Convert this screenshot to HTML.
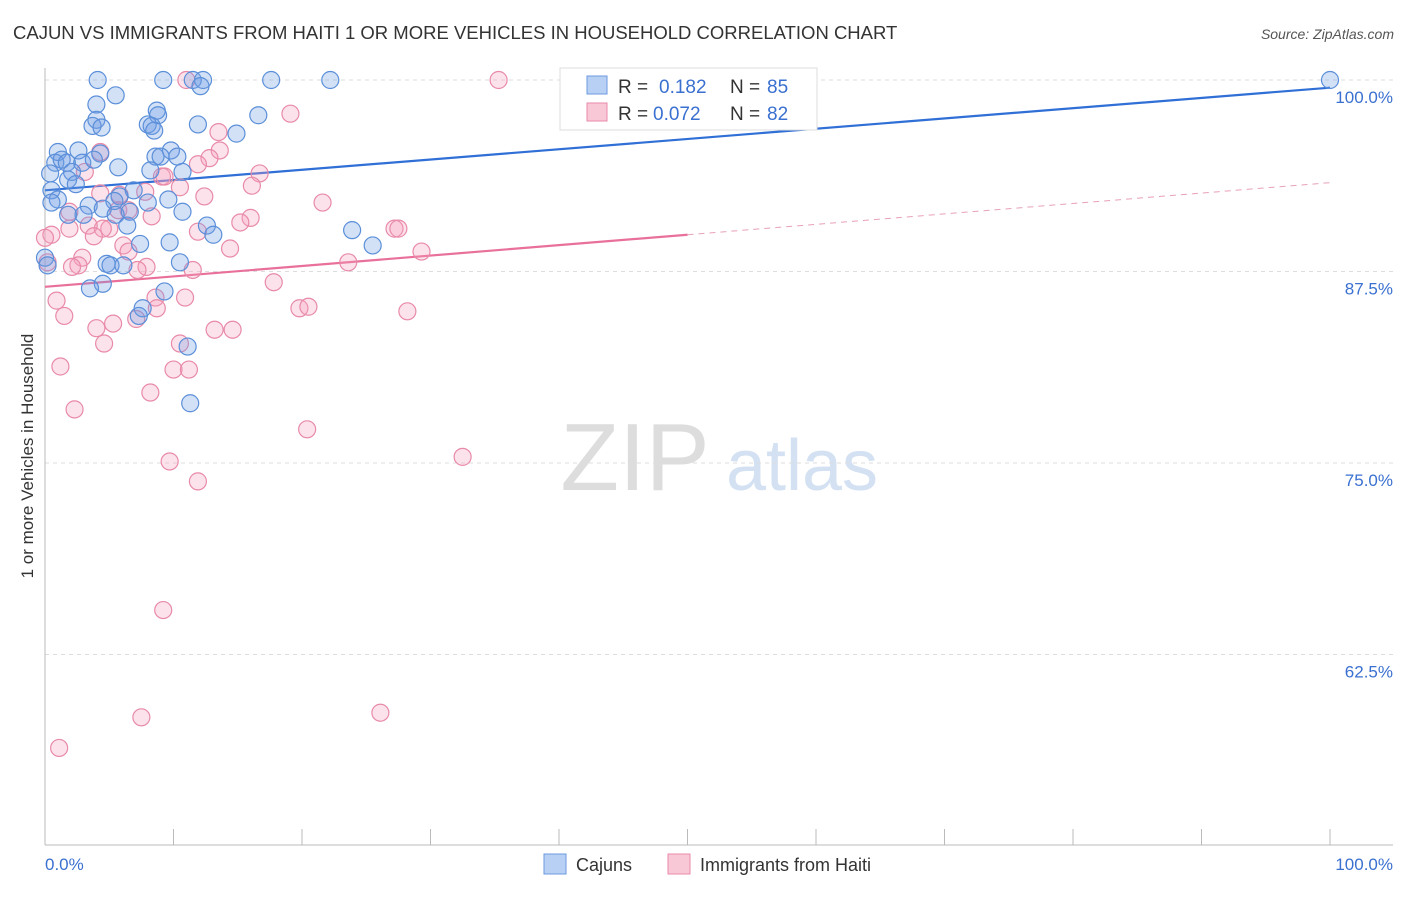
<!DOCTYPE html>
<html><head><meta charset="utf-8"><style>
body{margin:0;background:#fff;font-family:"Liberation Sans",sans-serif;}
svg text{font-family:"Liberation Sans",sans-serif;}
</style></head><body>
<svg id="chart" width="1406" height="892" viewBox="0 0 1406 892">
<text x="13" y="39" font-size="18.5" fill="#333">CAJUN VS IMMIGRANTS FROM HAITI 1 OR MORE VEHICLES IN HOUSEHOLD CORRELATION CHART</text>
<text x="1394" y="39" font-size="14" fill="#555" text-anchor="end" font-style="italic">Source: ZipAtlas.com</text>
<text transform="translate(33,456) rotate(-90)" font-size="17" fill="#333" text-anchor="middle">1 or more Vehicles in Household</text>
<g><text x="635" y="490" font-size="96" fill="#ddd" text-anchor="middle" font-family="Liberation Serif,serif">ZIP</text><text x="802" y="490" font-size="72" fill="#d3e1f3" text-anchor="middle">atlas</text></g>
<g id="grid"></g><g id="axes"></g><g id="lines"></g><g id="pts"></g>
<g>
<rect x="560" y="68" width="257" height="62" fill="#fff" stroke="#ddd"/>
<rect x="587" y="76" width="20" height="18" fill="#b8d0f3" stroke="#6b9ae0"/>
<text x="618" y="93" font-size="19" fill="#333">R =</text><text x="659" y="93" font-size="19" fill="#3a70d0">0.182</text>
<text x="730" y="93" font-size="19" fill="#333">N =</text><text x="767" y="93" font-size="19" fill="#3a70d0">85</text>
<rect x="587" y="103" width="20" height="18" fill="#f8c8d6" stroke="#e88aa8"/>
<text x="618" y="120" font-size="19" fill="#333">R =</text><text x="653" y="120" font-size="19" fill="#3a70d0">0.072</text>
<text x="730" y="120" font-size="19" fill="#333">N =</text><text x="767" y="120" font-size="19" fill="#3a70d0">82</text>
</g>
<g><rect x="544" y="854" width="22" height="20" fill="#b8d0f3" stroke="#6b9ae0"/><text x="576" y="871" font-size="18" fill="#333">Cajuns</text></g>
<g><rect x="668" y="854" width="22" height="20" fill="#f8c8d6" stroke="#e88aa8"/><text x="700" y="871" font-size="18" fill="#333">Immigrants from Haiti</text></g>
</svg>
<script>
const yTicks=[100,87.5,75,62.5];
const yTickLabels=["100.0%","87.5%","75.0%","62.5%"];
const xLabels=["0.0%","100.0%"];
const cajunX=[4.1,9.2,11.5,12.3,17.6,22.2,100,12.1,5.5,4.0,8.7,8.8,16.6,4.0,3.7,4.4,8.0,8.3,8.5,11.9,14.9,1.0,2.6,4.3,9.8,8.6,9.0,10.3,0.8,1.3,1.7,2.9,3.8,5.7,0.4,2.1,8.2,10.7,1.8,2.4,0.5,6.9,5.8,1.0,3.4,5.4,8.0,9.6,0.5,1.8,3.0,4.5,6.6,10.7,5.5,6.4,12.6,13.1,23.9,25.5,7.4,9.7,0,0.2,4.8,5.1,6.1,10.5,4.5,3.5,9.3,7.6,7.3,11.1,11.3];
const cajunY=[100,100,100,100,100,100,100,99.6,99.0,98.4,98.0,97.7,97.7,97.4,97.0,96.9,97.1,97.0,96.7,97.1,96.5,95.3,95.4,95.2,95.4,95.0,95.0,95.0,94.6,94.8,94.6,94.6,94.8,94.3,93.9,94.0,94.1,94.0,93.5,93.2,92.8,92.8,92.4,92.2,91.8,92.1,92.0,92.2,92.0,91.2,91.2,91.6,91.4,91.4,91.2,90.5,90.5,89.9,90.2,89.2,89.3,89.4,88.4,87.9,88.0,87.9,87.9,88.1,86.7,86.4,86.2,85.1,84.6,82.6,78.9];
const haitiX=[11.0,35.3,19.1,13.5,13.6,12.8,4.3,11.9,16.7,3.1,9.1,9.3,10.5,16.1,4.3,5.8,7.8,12.4,21.6,1.9,5.7,6.5,8.3,16.0,15.2,5.0,4.5,3.4,1.9,11.9,3.8,27.2,27.5,0.5,6.1,6.5,14.4,29.3,2.9,0.2,2.6,2.1,7.9,7.2,11.5,23.6,17.8,0.9,8.6,10.9,8.7,19.8,20.5,28.2,1.5,5.3,4.0,7.1,13.2,14.6,4.6,10.5,1.2,10.0,11.2,8.2,2.3,20.4,32.5,9.7,11.9,9.2,7.5,26.1,1.1,0];
const haitiY=[100,100,97.8,96.6,95.4,94.9,95.3,94.5,93.9,94.0,93.7,93.7,93.0,93.1,92.6,92.5,92.7,92.4,92.0,91.4,91.5,91.5,91.1,91.0,90.7,90.3,90.3,90.5,90.3,90.1,89.8,90.3,90.3,89.9,89.2,88.8,89.0,88.8,88.4,88.1,87.9,87.8,87.8,87.6,87.6,88.1,86.8,85.6,85.8,85.8,85.1,85.1,85.2,84.9,84.6,84.1,83.8,84.4,83.7,83.7,82.8,82.8,81.3,81.1,81.1,79.6,78.5,77.2,75.4,75.1,73.8,65.4,58.4,58.7,56.4,89.7];
const cajunTrend=[92.8,99.5];
const haitiTrend=[86.5,93.3];
const NS="http://www.w3.org/2000/svg";
const X=v=>45+v*12.85, Y=v=>80+(100-v)*15.32;
function mk(p,t,a){const e=document.createElementNS(NS,t);for(const k in a)e.setAttribute(k,a[k]);document.getElementById(p).appendChild(e);return e;}
yTicks.forEach((t,i)=>{
 const g=mk('grid','line',{x1:45,x2:1393,y1:Y(t),y2:Y(t),stroke:'#ddd','stroke-dasharray':'4,4'});
 
 
 const l=mk('grid','text',{x:1393,y:Y(t)+23,'text-anchor':'end','font-size':17,fill:'#3a70d0'});l.textContent=yTickLabels[i];
 
 
});
const ax=mk('axes','line',{x1:45,x2:1393,y1:845,y2:845,stroke:'#bbb'});


const ay=mk('axes','line',{x1:45,x2:45,y1:68,y2:845,stroke:'#bbb'});


for(let i=0;i<=10;i++){const t=mk('axes','line',{x1:X(i*10),x2:X(i*10),y1:829,y2:845,stroke:'#bbb'});
 
 }
[[0,'start'],[100,'end']].forEach((d,i)=>{const t=mk('axes','text',{x:i?1393:45,y:870,'text-anchor':d[1],'font-size':17,fill:'#3a70d0'});t.textContent=xLabels[i];
 
 });
function pts(xs,ys,st,fi,nm){xs.forEach((x,i)=>{const c=mk('pts','circle',{cx:X(x),cy:Y(ys[i]),r:8.5,fill:fi,stroke:st,'stroke-width':1.2});
 
 });}
pts(haitiX,haitiY,'#e88aa8','rgba(244,160,188,0.3)','haiti-point');
pts(cajunX,cajunY,'#5b8fd9','rgba(110,155,230,0.3)','cajun-point');
const bl=mk('lines','line',{x1:X(0),y1:Y(cajunTrend[0]),x2:X(100),y2:Y(cajunTrend[1]),stroke:'#2f6fd6','stroke-width':2.2});


const mid=haitiTrend[0]+(haitiTrend[1]-haitiTrend[0])*0.5;
const pl=mk('lines','line',{x1:X(0),y1:Y(haitiTrend[0]),x2:X(50),y2:Y(mid),stroke:'#e8709a','stroke-width':2.2});


const pd=mk('lines','line',{x1:X(50),y1:Y(mid),x2:X(100),y2:Y(haitiTrend[1]),stroke:'#e8a0b8','stroke-width':1,'stroke-dasharray':'6,5'});


</script>
</body></html>
